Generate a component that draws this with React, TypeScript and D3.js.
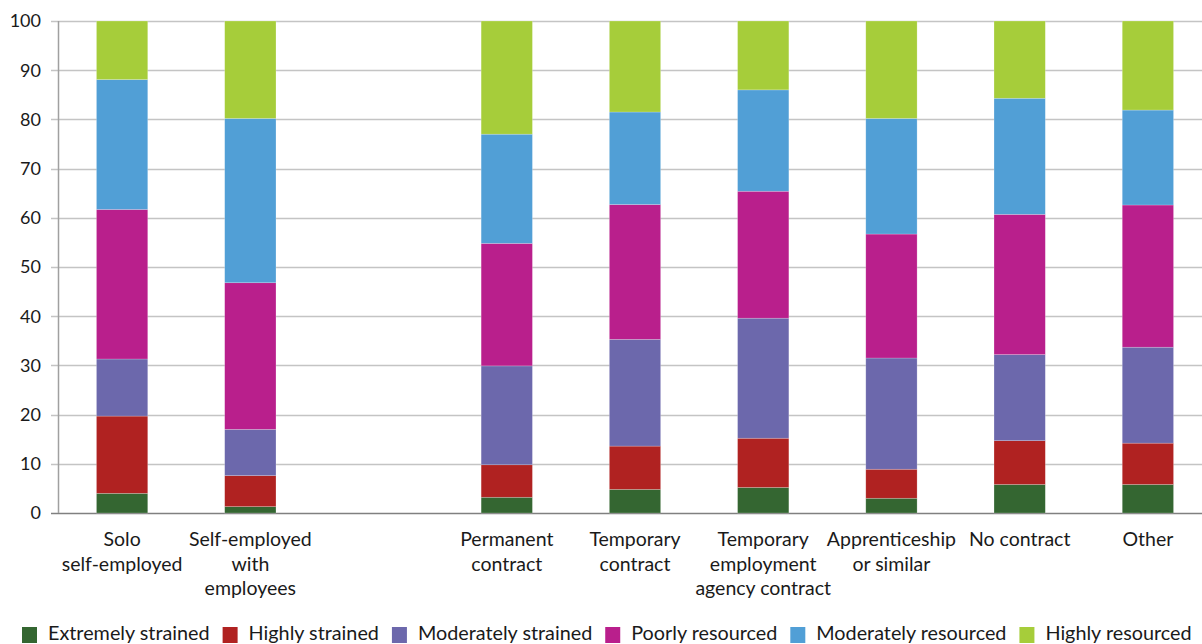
import React, { useEffect, useRef } from "react";
import * as d3 from "d3";

const categories: string[][] = [
  ["Solo", "self-employed"],
  ["Self-employed", "with", "employees"],
  [],
  ["Permanent", "contract"],
  ["Temporary", "contract"],
  ["Temporary", "employment", "agency contract"],
  ["Apprenticeship", "or similar"],
  ["No contract"],
  ["Other"],
];
const categoryKeys = ["solo", "selfemp", "blank", "perm", "temp", "tea", "appr", "nocon", "other"];

const seriesNames = [
  "Extremely strained",
  "Highly strained",
  "Moderately strained",
  "Poorly resourced",
  "Moderately resourced",
  "Highly resourced",
];
const seriesColors = ["#346631", "#b02221", "#6c68ac", "#b91f8c", "#519fd6", "#a6cd3a"];

const extremelyStrained = [4.0, 1.3, null, 3.2, 4.8, 5.2, 3.0, 5.8, 5.8];
const highlyStrained = [15.7, 6.3, null, 6.6, 8.8, 10.0, 5.9, 8.9, 8.4];
const moderatelyStrained = [11.6, 9.4, null, 20.1, 21.7, 24.4, 22.6, 17.5, 19.5];
const poorlyResourced = [30.4, 29.8, null, 24.9, 27.4, 25.8, 25.2, 28.5, 28.9];
const moderatelyResourced = [26.4, 33.4, null, 22.2, 18.8, 20.6, 23.5, 23.6, 19.3];
const highlyResourced = [11.9, 19.8, null, 23.0, 18.5, 14.0, 19.8, 15.7, 18.1];

const yTicks = [0, 10, 20, 30, 40, 50, 60, 70, 80, 90, 100];

const W = 1202;
const H = 644;
const FONT = "Lato, 'Noto Sans', sans-serif";

export default function App() {
  const ref = useRef<SVGSVGElement | null>(null);

  useEffect(() => {
    const svg = d3.select(ref.current);
    svg.selectAll("*").remove();

    const left = 58;
    const top = 21;
    const bottom = 513;
    const right = 1212;

    const x = d3.scaleBand<string>().domain(categoryKeys).range([left, right]).paddingInner(0.6).paddingOuter(0.3);
    const y = d3.scaleLinear().domain([0, 100]).range([bottom, top]);

    const allSeries = [
      extremelyStrained,
      highlyStrained,
      moderatelyStrained,
      poorlyResourced,
      moderatelyResourced,
      highlyResourced,
    ];

    const rows = categoryKeys.map((k, i) => {
      const r: any = { key: k };
      seriesNames.forEach((s, j) => {
        r[s] = allSeries[j][i] ?? 0;
      });
      return r;
    });
    const stacked = d3.stack<any>().keys(seriesNames)(rows);

    // gridlines
    svg
      .append("g")
      .selectAll("line")
      .data(yTicks)
      .join("line")
      .attr("x1", left - 7)
      .attr("x2", W)
      .attr("y1", (d) => Math.round(y(d)) + 0.5)
      .attr("y2", (d) => Math.round(y(d)) + 0.5)
      .attr("stroke", (d) => (d === 0 ? "#808080" : "#c4c4c4"))
      .attr("stroke-width", (d) => (d === 0 ? 1.5 : 1.3));

    // bars
    svg
      .append("g")
      .selectAll("g")
      .data(stacked)
      .join("g")
      .attr("fill", (_d, i) => seriesColors[i])
      .selectAll("rect")
      .data((d) => d.filter((p) => p.data.key !== "blank"))
      .join("rect")
      .attr("x", (d) => x(d.data.key)!)
      .attr("width", x.bandwidth())
      .attr("y", (d) => y(d[1]))
      .attr("height", (d) => y(d[0]) - y(d[1]))
      .attr("stroke", "rgba(255,255,255,0.35)")
      .attr("stroke-width", 0.6);

    // y axis line
    svg
      .append("line")
      .attr("x1", left + 0.5)
      .attr("x2", left + 0.5)
      .attr("y1", top)
      .attr("y2", bottom)
      .attr("stroke", "#a0a0a0")
      .attr("stroke-width", 1.5);

    // y labels
    svg
      .append("g")
      .selectAll("text")
      .data(yTicks)
      .join("text")
      .attr("x", 41)
      .attr("y", (d) => y(d))
      .attr("dy", "0.35em")
      .attr("text-anchor", "end")
      .attr("font-family", FONT)
      .attr("font-size", 18)
      .attr("fill", "#1a1a1a")
      .text((d) => d);

    // category labels
    const cg = svg.append("g");
    categories.forEach((lines, i) => {
      const cx = x(categoryKeys[i])! + x.bandwidth() / 2;
      lines.forEach((ln, j) => {
        cg.append("text")
          .attr("x", cx)
          .attr("y", 546 + j * 24.5)
          .attr("text-anchor", "middle")
          .attr("font-family", FONT)
          .attr("font-size", 19.5)
          .attr("fill", "#1a1a1a")
          .text(ln);
      });
    });

    // legend
    const lg = svg.append("g");
    let lx = 22;
    seriesNames.forEach((s, i) => {
      lg.append("rect")
        .attr("x", lx)
        .attr("y", 627)
        .attr("width", 15)
        .attr("height", 16)
        .attr("fill", seriesColors[i]);
      const t = lg
        .append("text")
        .attr("x", lx + 26)
        .attr("y", 640)
        .attr("font-family", FONT)
        .attr("font-size", 19.8)
        .attr("fill", "#1a1a1a")
        .text(s);
      const w = (t.node() as SVGTextElement).getComputedTextLength();
      lx = lx + 26 + w + 13;
    });
  }, []);

  return (
    <svg
      ref={ref}
      width={W}
      height={H}
      style={{ position: "absolute", left: 0, top: 0, background: "#fff" }}
    />
  );
}
